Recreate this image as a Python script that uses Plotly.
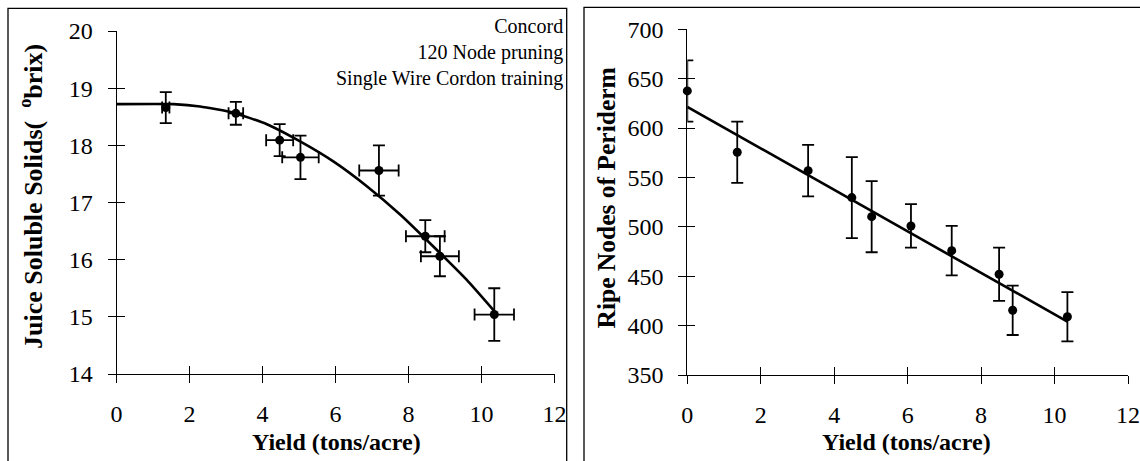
import plotly.graph_objects as go

# ---------------- data ----------------
# Left panel: juice soluble solids vs yield
left_x = [1.35, 3.27, 4.47, 5.04, 7.19, 8.46, 8.86, 10.35]
left_y = [18.66, 18.56, 18.09, 17.79, 17.56, 16.41, 16.06, 15.04]
left_yerr = [0.27, 0.20, 0.28, 0.38, 0.44, 0.28, 0.35, 0.46]
left_xerr = [0.10, 0.20, 0.37, 0.50, 0.54, 0.53, 0.52, 0.54]
# fitted curve (plateau-quadratic)
curve_x = [0, 1.56, 2.29, 3.20, 4.12, 5.03, 5.94, 6.85, 7.77, 8.68, 9.59, 10.35]
curve_y = [18.72, 18.72, 18.68, 18.57, 18.37, 18.07, 17.72, 17.29, 16.79, 16.23, 15.65, 15.10]

# Right panel: ripe nodes of periderm vs yield
right_x = [0.0, 1.36, 3.29, 4.48, 5.02, 6.09, 7.20, 8.49, 8.86, 10.35]
right_y = [637.6, 575.5, 556.9, 529.6, 510.3, 500.9, 475.9, 452.0, 415.5, 409.0]
right_err = [31, 31, 26, 41, 36, 22, 25, 27, 25, 25]
# fitted regression line end points
fit_x = [0.0, 10.35]
fit_y = [621.5, 404.0]

x_ticks = [0, 2, 4, 6, 8, 10, 12]
left_yticks = [14, 15, 16, 17, 18, 19, 20]
right_yticks = [350, 400, 450, 500, 550, 600, 650, 700]

note_lines = ["Concord", "120 Node pruning", "Single Wire Cordon training"]
x_title = "<b>Yield (tons/acre)</b>"
left_y_title = "<b>Juice Soluble Solids(  <sup>o</sup>brix)</b>"
right_y_title = "<b>Ripe Nodes of Periderm</b>"

# ---------------- layout geometry ----------------
W, H = 1140, 461
FONT = "Liberation Serif"


def px(x):
    return x / W


def py(y):
    return 1 - y / H


L_XDOM = [px(116.5), px(554.5)]
L_YDOM = [py(374), py(31)]
R_XDOM = [px(687.3), px(1128)]
R_YDOM = [py(375), py(29.3)]

fig = go.Figure()

# left panel
fig.add_trace(go.Scatter(
    x=curve_x, y=curve_y, mode="lines", xaxis="x", yaxis="y",
    line=dict(color="black", width=2.6, shape="spline", smoothing=0.5),
    cliponaxis=False, showlegend=False, hoverinfo="skip"))
fig.add_trace(go.Scatter(
    x=left_x, y=left_y, mode="markers", xaxis="x", yaxis="y",
    marker=dict(color="black", size=9),
    error_y=dict(type="data", array=left_yerr, color="black", thickness=1.8, width=6),
    error_x=dict(type="data", array=left_xerr, color="black", thickness=1.8, width=6),
    cliponaxis=False, showlegend=False))

# right panel
fig.add_trace(go.Scatter(
    x=fit_x, y=fit_y, mode="lines", xaxis="x2", yaxis="y2",
    line=dict(color="black", width=2.6),
    cliponaxis=False, showlegend=False, hoverinfo="skip"))
fig.add_trace(go.Scatter(
    x=right_x, y=right_y, mode="markers", xaxis="x2", yaxis="y2",
    marker=dict(color="black", size=9),
    error_y=dict(type="data", array=right_err, color="black", thickness=1.8, width=6),
    cliponaxis=False, showlegend=False))

tickfont = dict(family=FONT, size=24, color="black")


def main_axis(domain, rng, tickvals, anchor):
    return dict(domain=domain, range=rng, tickmode="array", tickvals=tickvals,
                ticks="outside", ticklen=8, tickwidth=1, tickcolor="black",
                showline=True, linecolor="black", linewidth=1,
                showgrid=False, zeroline=False, tickfont=tickfont,
                anchor=anchor, fixedrange=True, automargin=False,
                ticklabelstandoff=10)


def overlay_axis(over, rng, tickvals, anchor):
    return dict(overlaying=over, range=rng, tickmode="array", tickvals=tickvals,
                ticks="inside", ticklen=8, tickwidth=1, tickcolor="black",
                showticklabels=False, showline=False, showgrid=False,
                zeroline=False, anchor=anchor, fixedrange=True, automargin=False)


layout = dict(
    width=W, height=H,
    margin=dict(l=0, r=0, t=0, b=0, pad=0, autoexpand=False),
    paper_bgcolor="white", plot_bgcolor="rgba(0,0,0,0)",
    font=dict(family=FONT, color="black"),
    showlegend=False,
    xaxis=main_axis(L_XDOM, [0, 12], x_ticks, "y"),
    yaxis=main_axis(L_YDOM, [14, 20], left_yticks, "x"),
    xaxis2=main_axis(R_XDOM, [0, 12], x_ticks, "y2"),
    yaxis2=main_axis(R_YDOM, [350, 700], right_yticks, "x2"),
    xaxis3=overlay_axis("x", [0, 12], x_ticks, "y"),
    yaxis3=overlay_axis("y", [14, 20], left_yticks, "x"),
    xaxis4=overlay_axis("x2", [0, 12], x_ticks, "y2"),
    yaxis4=overlay_axis("y2", [350, 700], right_yticks, "x2"),
)
fig.update_layout(**layout)

# empty traces so the overlay (crossing-tick) axes are drawn
fig.add_trace(go.Scatter(x=[None], y=[None], xaxis="x3", yaxis="y3",
                         showlegend=False, hoverinfo="skip"))
fig.add_trace(go.Scatter(x=[None], y=[None], xaxis="x4", yaxis="y4",
                         showlegend=False, hoverinfo="skip"))

xt_font = dict(family=FONT, size=24, color="black")
annotations = [
    dict(text=x_title, x=px(336.5), y=py(441.5), xref="paper", yref="paper",
         showarrow=False, font=xt_font, xanchor="center", yanchor="middle"),
    dict(text=x_title, x=px(906), y=py(441.5), xref="paper", yref="paper",
         showarrow=False, font=xt_font, xanchor="center", yanchor="middle"),
    dict(text=left_y_title, x=px(32), y=py(197), xref="paper", yref="paper",
         showarrow=False, font=dict(family=FONT, size=26, color="black"), textangle=-90,
         xanchor="center", yanchor="middle"),
    dict(text=right_y_title, x=px(606.5), y=py(198), xref="paper", yref="paper",
         showarrow=False, font=dict(family=FONT, size=25.5, color="black"), textangle=-90,
         xanchor="center", yanchor="middle"),
    dict(text="<br>".join(note_lines), x=px(565), y=py(52), xref="paper", yref="paper",
         showarrow=False, font=dict(family=FONT, size=20, color="black"),
         align="right", xanchor="right", yanchor="middle"),
]
fig.update_layout(annotations=annotations)

# panel frames (cropped at the bottom / right in the reference)
shapes = [
    dict(type="rect", xref="paper", yref="paper", x0=px(8), x1=px(566.7),
         y0=-0.1, y1=py(8.3), line=dict(color="black", width=1.3)),
    dict(type="rect", xref="paper", yref="paper", x0=px(584), x1=1.1,
         y0=-0.1, y1=py(7.3), line=dict(color="black", width=1.3)),
]
fig.update_layout(shapes=shapes)

# remove the default 8px page margin so the figure fills the window exactly
fig.write_html("out.html", config={"displayModeBar": False},
               post_script="document.body.style.margin='0';")
